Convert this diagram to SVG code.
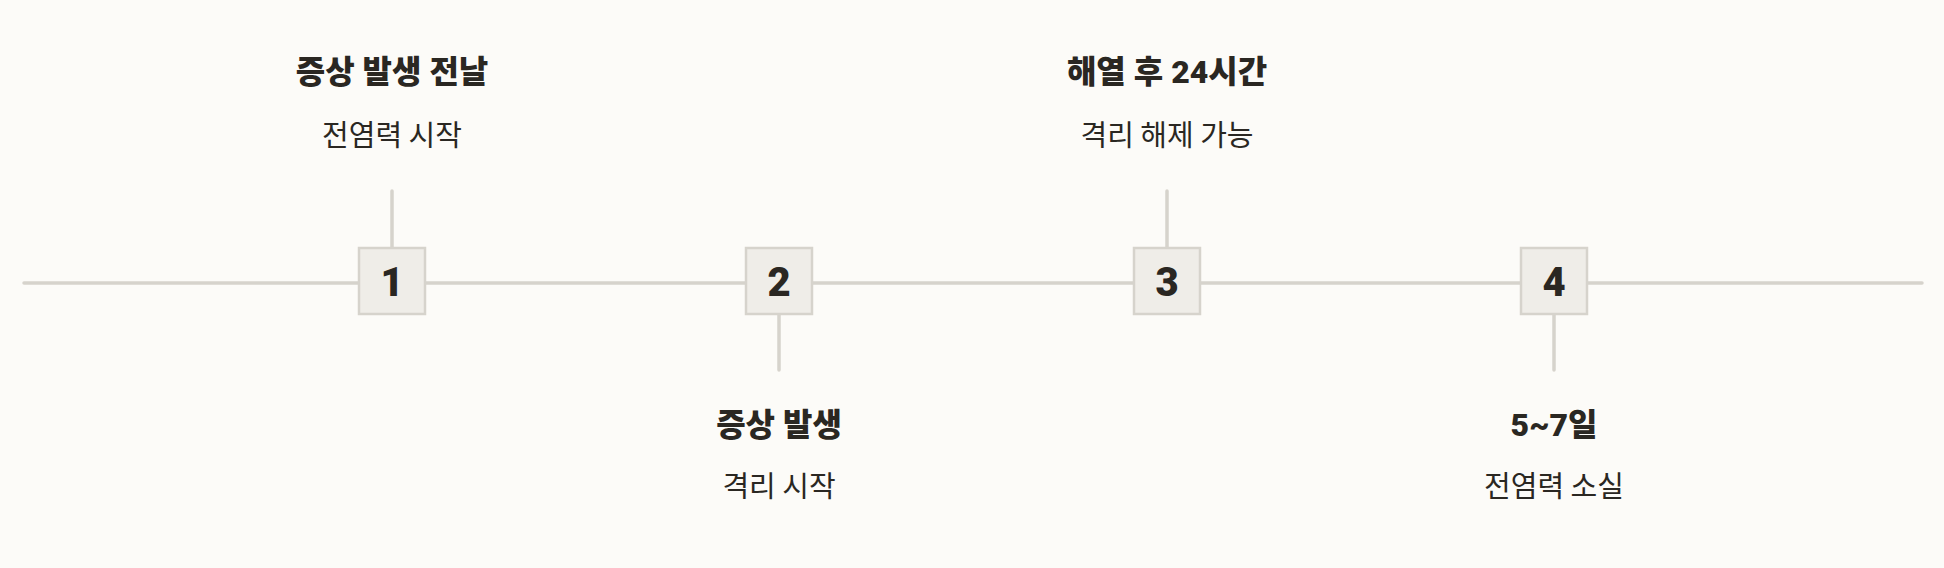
<svg xmlns="http://www.w3.org/2000/svg" width="1944" height="568" viewBox="0 0 1944 568">
<style>
.bg{fill:#fcfbf8}
.ln{stroke:#d6d3cc;stroke-width:3.5;stroke-linecap:round;fill:none}
.box{fill:#efede8;stroke:#d6d3cc;stroke-width:2.5}
.num{font-family:"Roboto","Noto Sans CJK KR",sans-serif;font-weight:900;font-size:40px;fill:#2a2722;text-anchor:middle}
.t{font-family:"Roboto","Noto Sans CJK KR",sans-serif;font-weight:900;font-size:32px;fill:#2a2722;text-anchor:middle}
.s{font-family:"Noto Sans CJK KR",sans-serif;font-weight:400;font-size:29px;fill:#2a2722;text-anchor:middle}
</style>
<rect class="bg" x="0" y="0" width="1944" height="568"/>
<g id="connectors">
<line class="ln" x1="24" y1="283" x2="1922" y2="283"/>
<line class="ln" x1="392" y1="191" x2="392" y2="248"/>
<line class="ln" x1="779" y1="314" x2="779" y2="370"/>
<line class="ln" x1="1167" y1="191" x2="1167" y2="248"/>
<line class="ln" x1="1554" y1="314" x2="1554" y2="370"/>
</g>
<g id="node1">
<rect class="box" x="359" y="248" width="66" height="66"/>
<text class="num" x="392" y="296">1</text>
<text class="t" x="392" y="83">증상 발생 전날</text>
<text class="s" x="392" y="146">전염력 시작</text>
</g>
<g id="node2">
<rect class="box" x="746" y="248" width="66" height="66"/>
<text class="num" x="779" y="296">2</text>
<text class="t" x="779" y="436">증상 발생</text>
<text class="s" x="779" y="497">격리 시작</text>
</g>
<g id="node3">
<rect class="box" x="1134" y="248" width="66" height="66"/>
<text class="num" x="1167" y="296">3</text>
<text class="t" x="1167" y="83">해열 후 24시간</text>
<text class="s" x="1167" y="146">격리 해제 가능</text>
</g>
<g id="node4">
<rect class="box" x="1521" y="248" width="66" height="66"/>
<text class="num" x="1554" y="296">4</text>
<text class="t" x="1554" y="436">5~7일</text>
<text class="s" x="1554" y="497">전염력 소실</text>
</g>
</svg>
